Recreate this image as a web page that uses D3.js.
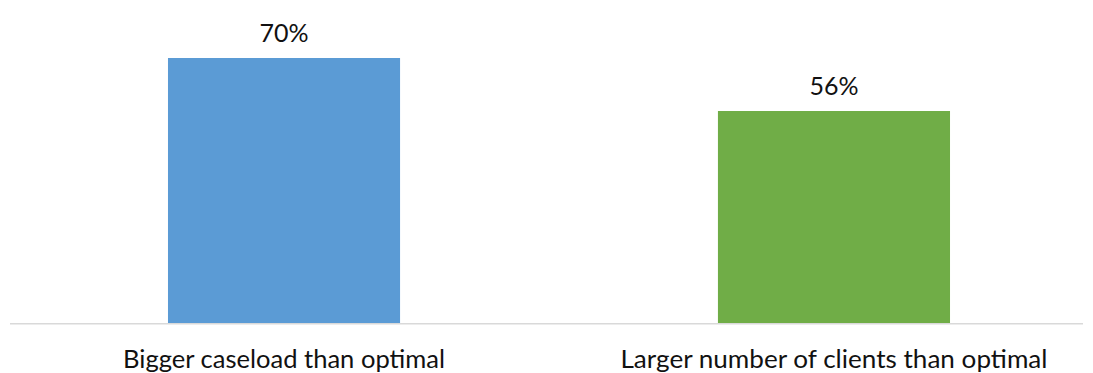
<!DOCTYPE html>
<html><head><meta charset="utf-8">
<script src="https://cdn.jsdelivr.net/npm/d3@7"></script>
<style>body{margin:0;background:#fff}svg{display:block}</style>
</head><body>
<script>
const categories = ["Bigger caseload than optimal", "Larger number of clients than optimal"];
const values = [70, 56];
const valueLabels = ["70%", "56%"];
const colors = ["#5B9BD5", "#70AD47"];

const W = 1093, H = 373;
const svg = d3.select("body").append("svg").attr("width", W).attr("height", H);

const x = d3.scaleBand().domain(categories).range([35, 1083]).paddingInner(0.578).paddingOuter(0.2418);
const y = d3.scaleLinear().domain([0, 70]).range([323, 58]);

svg.selectAll("rect.bar").data(values).enter().append("rect")
  .attr("class", "bar")
  .attr("x", (d, i) => x(categories[i]))
  .attr("width", x.bandwidth())
  .attr("y", d => y(d))
  .attr("height", d => y(0) - y(d))
  .attr("fill", (d, i) => colors[i]);

const axis = svg.append("g").attr("transform", `translate(0,${y(0) + 0.5})`)
  .call(d3.axisBottom(x).tickSize(0).tickPadding(27));
axis.select(".domain").remove();
axis.append("line").attr("x1", 10).attr("x2", 1083).attr("y1", 0.25).attr("y2", 0.25)
  .attr("stroke", "#d9d9d9").attr("stroke-width", 1.5);
const labelWidths = [322, 427];
axis.selectAll(".tick text")
  .attr("font-family", "Lato, 'Open Sans', sans-serif")
  .attr("font-size", 25)
  .attr("fill", "#111")
  .attr("dy", "0.71em")
  .attr("textLength", (d, i) => labelWidths[i])
  .attr("lengthAdjust", "spacingAndGlyphs");

svg.selectAll("text.val").data(values).enter().append("text")
  .attr("class", "val")
  .attr("x", (d, i) => x(categories[i]) + x.bandwidth() / 2)
  .attr("y", d => y(d) - 16)
  .attr("text-anchor", "middle")
  .attr("font-family", "Lato, 'Open Sans', sans-serif")
  .attr("font-size", 25)
  .attr("fill", "#111")
  .text((d, i) => valueLabels[i]);
</script>
</body></html>
